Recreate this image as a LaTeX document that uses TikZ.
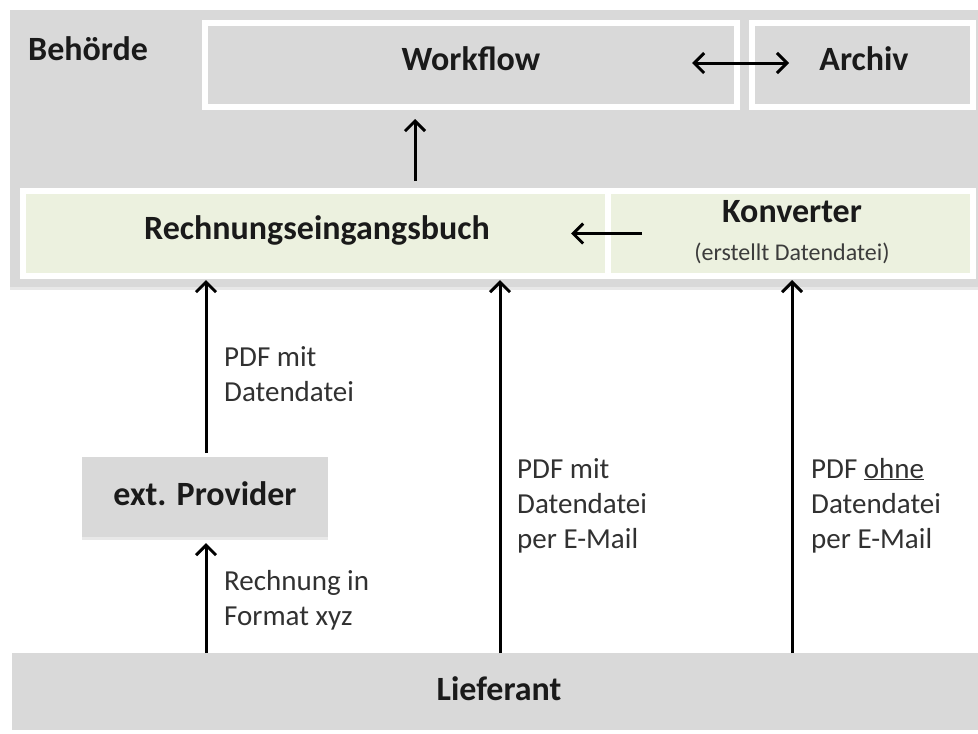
\documentclass[tikz,border=0pt]{standalone}
\usepackage{fontspec}
\setmainfont{Carlito}
\usetikzlibrary{arrows.meta,shadows}

\definecolor{boxgray}{RGB}{217,217,217}
\definecolor{boxgreen}{RGB}{236,241,223}
\definecolor{ink}{RGB}{26,26,26}

\tikzset{
  plainbox/.style={fill=boxgray, draw=none, inner sep=0pt, outer sep=0pt,
    anchor=north west},
  framedbox/.style={draw=white, line width=6pt, inner sep=0pt, outer sep=0pt,
    anchor=north west,
    drop shadow={shadow xshift=1pt, shadow yshift=-3pt, opacity=0.22}},
  softshadow/.style={drop shadow={shadow xshift=0pt, shadow yshift=-3pt, opacity=0.18}},
  title/.style={font=\fontsize{34}{40}\selectfont\bfseries, text=ink, inner sep=0pt},
  subtitle/.style={font=\fontsize{24}{28}\selectfont, text=ink!85, inner sep=0pt},
  flowlabel/.style={font=\fontsize{29}{35}\selectfont, text=ink!90, inner sep=0pt,
    anchor=base west},
  arr/.style={draw=black, line width=3pt,
    -{Straight Barb[length=10pt,width=20pt]}},
  dblarr/.style={draw=black, line width=3pt,
    {Straight Barb[length=10pt,width=20pt]}-{Straight Barb[length=10pt,width=20pt]}},
}

\begin{document}
\begin{tikzpicture}[x=1pt, y=-1pt]
  \useasboundingbox (0,0) rectangle (978,734);

  % authority area
  \node[plainbox, softshadow, minimum width=968pt, minimum height=277pt] (beh) at (10,10) {};
  \node[title, anchor=base west] (behT) at (28,60) {Behörde};

  % workflow and archive
  \node[framedbox, fill=boxgray, minimum width=532pt, minimum height=84pt] (wf) at (205,23) {};
  \node[framedbox, fill=boxgray, minimum width=221pt, minimum height=84pt] (ar) at (752,23) {};
  \node[title, anchor=base] (wfT) at (471,70) {Workflow};
  \node[title, anchor=base] (arT) at (864,70) {Archiv};

  % invoice register and converter
  \node[framedbox, fill=boxgreen, minimum width=585pt, minimum height=85pt] (reb) at (23,191) {};
  \node[framedbox, fill=boxgreen, minimum width=365pt, minimum height=85pt] (konv) at (608,191) {};
  \node[title, anchor=base] (rebT) at (317,239) {Rechnungseingangsbuch};
  \node[title, anchor=base] (konvT) at (792,222) {Konverter};
  \node[subtitle, anchor=base] (konvS) at (792,260) {(erstellt Datendatei)};

  % external provider and supplier
  \node[plainbox, softshadow, minimum width=246pt, minimum height=80pt] (prov) at (82,457) {};
  \node[title, anchor=base] (provT) at (205,505) {ext. Provider};
  \node[plainbox, minimum width=966pt, minimum height=77pt] (lief) at (12,653) {};
  \node[title, anchor=base] (liefT) at (499,700) {Lieferant};

  % columns of the vertical connectors
  \coordinate (cA) at (415,0);
  \coordinate (cB) at (206,0);
  \coordinate (cC) at (500,0);
  \coordinate (cD) at (792,0);

  % connectors inside the authority
  \draw[arr, shorten <=10pt, shorten >=12pt] (reb.north -| cA) -- (wf.south -| cA);
  \draw[dblarr] ([xshift=-45pt, yshift=2pt]wf.east) -- ([xshift=37pt, yshift=2pt]ar.west);
  \draw[arr] ([xshift=34pt]konv.west) -- ([xshift=-37pt]reb.east);

  % connectors from the supplier
  \draw[arr, shorten >=6pt] (lief.north -| cB) -- (prov.south -| cB);
  \draw[arr, shorten <=4pt, shorten >=4pt] (prov.north -| cB) -- (reb.south -| cB);
  \draw[arr, shorten >=4pt] (lief.north -| cC) -- (reb.south -| cC);
  \draw[arr, shorten >=4pt] (lief.north -| cD) -- (konv.south -| cD);

  % connector labels
  \node[flowlabel] (lab1) at (224,366)
    {\begin{tabular}[t]{@{}l@{}}PDF mit\\Datendatei\end{tabular}};
  \node[flowlabel] (lab2) at (224,590)
    {\begin{tabular}[t]{@{}l@{}}Rechnung in\\Format xyz\end{tabular}};
  \node[flowlabel] (lab3) at (517,478)
    {\begin{tabular}[t]{@{}l@{}}PDF mit\\Datendatei\\per E-Mail\end{tabular}};
  \node[flowlabel] (lab4) at (811,478)
    {\begin{tabular}[t]{@{}l@{}}PDF \underline{ohne}\\Datendatei\\per E-Mail\end{tabular}};
\end{tikzpicture}
\end{document}
